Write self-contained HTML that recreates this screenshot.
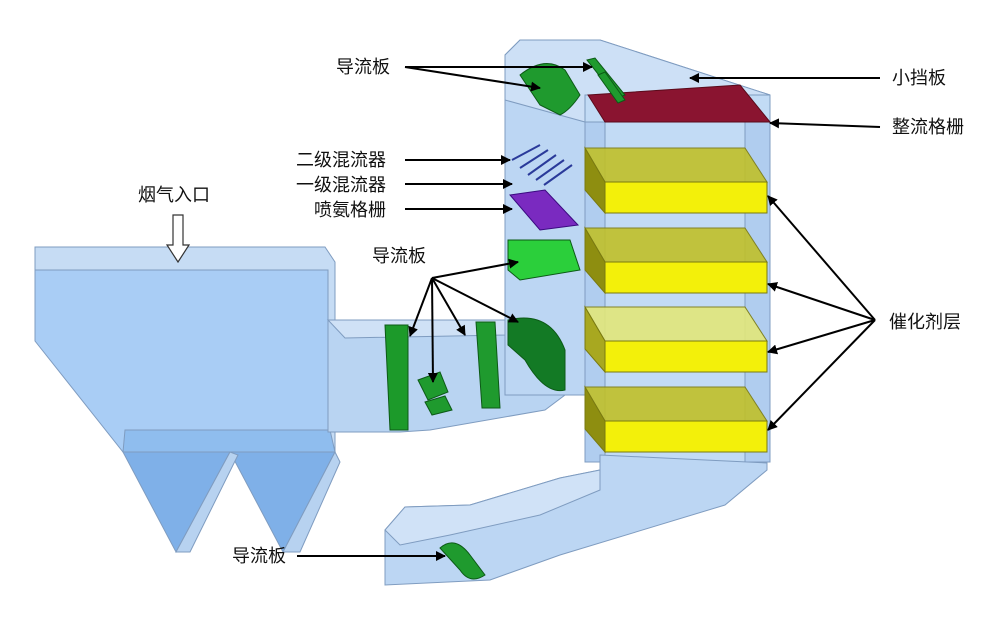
<!DOCTYPE html>
<html><head><meta charset="utf-8"><style>
html,body{margin:0;padding:0;background:#fff;}
svg{display:block}
text{font-family:"Liberation Sans","Noto Sans CJK SC",sans-serif;font-size:18px;fill:#111;}
</style></head><body>
<svg width="1000" height="624" viewBox="0 0 1000 624" xmlns="http://www.w3.org/2000/svg">
<defs>
<marker id="a" markerWidth="10" markerHeight="10" refX="9" refY="5" orient="auto" markerUnits="userSpaceOnUse" viewBox="0 0 10 10">
<path d="M0,0 L10,5 L0,10 z" fill="#000"/></marker>
</defs>
<g stroke="#7f9cc0" stroke-width="1">
<!-- boiler -->
<polygon points="35,247 325,247 335,262 335,462 328,462 328,270 35,270" fill="#c6dcf4"/>
<polygon points="35,270 328,270 328,460 123,452 35,341" fill="#a9cdf5"/>
<polygon points="123,452 230,452 176,552" fill="#7fb0e8"/>
<polygon points="230,452 335,452 283,552" fill="#7fb0e8"/>
<polygon points="125,430 330,430 335,452 123,452" fill="#8fbdee"/>
<polygon points="283,552 300,552 340,462 335,452" fill="#b7d2f0"/>
<polygon points="176,552 190,552 238,455 230,452" fill="#b7d2f0"/>
<!-- horizontal duct -->
<polygon points="328,320 505,320 585,300 585,380 545,410 430,430 400,432 328,432" fill="#b9d4f2"/>
<polygon points="328,320 505,320 505,335 345,338 328,320" fill="#cfe1f6"/>
<!-- riser -->
<polygon points="505,55 520,40 600,40 770,95 770,122 585,122 585,395 505,395" fill="#bcd6f3"/>
<polygon points="520,40 600,40 770,95 600,95 585,122 505,100 505,55" fill="#cde0f6"/>
<!-- reactor -->
<polygon points="585,95 770,95 770,462 585,462" fill="#c2dbf5"/>
<polygon points="585,122 605,122 605,462 585,462" fill="#b0cdef"/>
<polygon points="745,122 770,122 770,462 745,462" fill="#b0cdef"/>
<!-- lower duct -->
<polygon points="600,455 767,463 767,470 725,505 560,555 490,580 385,585 385,530 405,507 470,505 560,478 600,470" fill="#bcd6f3"/>
<polygon points="385,530 405,507 470,505 560,478 600,470 600,490 540,515 450,535 400,545" fill="#d0e2f7"/>
</g>
<!-- catalyst layers -->
<g stroke="#7a7a10" stroke-width="1">
<polygon points="585,148 745,148 767,182 605,182" fill="#c0c02a" opacity=".9"/>
<polygon points="605,182 767,182 767,213 605,213" fill="#f3f00a"/>
<polygon points="585,148 605,182 605,213 585,190" fill="#8e8e10"/>
<polygon points="585,228 745,228 767,262 605,262" fill="#c0c02a" opacity=".9"/>
<polygon points="605,262 767,262 767,293 605,293" fill="#f3f00a"/>
<polygon points="585,228 605,262 605,293 585,270" fill="#8e8e10"/>
<polygon points="585,307 745,307 767,341 605,341" fill="#e2e77a" opacity=".9"/>
<polygon points="605,341 767,341 767,372 605,372" fill="#f3f00a"/>
<polygon points="585,307 605,341 605,372 585,349" fill="#a8a820"/>
<polygon points="585,387 745,387 767,421 605,421" fill="#c0c02a" opacity=".9"/>
<polygon points="605,421 767,421 767,452 605,452" fill="#f3f00a"/>
<polygon points="585,387 605,421 605,452 585,429" fill="#8e8e10"/>
</g>
<!-- red grid -->
<polygon points="588,95 740,85 770,122 605,122" fill="#8a1430" stroke="#5a0a1a"/>
<!-- green vanes -->
<g fill="#1f9a2e" stroke="#0c5a16">
<path d="M520,75 Q545,55 565,70 L580,95 Q570,110 560,115 L540,105 Z"/>
<polygon points="587,60 595,58 625,95 617,98"/>
<polygon points="598,75 605,72 625,100 618,103"/>
<polygon points="508,240 570,240 580,270 520,280 508,270" fill="#2bcf3b"/>
<polygon points="385,325 408,325 408,430 390,430" fill="#1c9a2a"/>
<polygon points="418,380 440,372 448,392 428,400" />
<polygon points="425,402 445,396 452,410 432,415"/>
<polygon points="476,322 495,322 500,408 482,408"/>
<path d="M508,320 Q550,310 565,350 L565,390 Q545,395 525,360 L508,345 Z" fill="#137a25"/>
<path d="M440,548 Q455,535 470,555 L485,575 Q470,585 460,570 Z"/>
</g>
<!-- mixers -->
<g stroke="#2a3a9a" stroke-width="2">
<line x1="512" y1="160" x2="540" y2="145"/><line x1="520" y1="168" x2="548" y2="150"/><line x1="528" y1="175" x2="556" y2="155"/><line x1="536" y1="180" x2="564" y2="160"/><line x1="544" y1="185" x2="572" y2="165"/>
</g>
<g fill="#7a2ac0" stroke="#3a0a80">
<polygon points="510,195 545,190 578,225 540,230"/>
</g>
<!-- inlet arrow -->
<polygon points="173,215 183,215 183,245 189,245 178,262 167,245 173,245" fill="#fff" stroke="#333" stroke-width="1.2"/>
<!-- arrows -->
<g stroke="#000" stroke-width="2" fill="none" marker-end="url(#a)">
<line x1="405" y1="67" x2="592" y2="67"/>
<line x1="405" y1="67" x2="540" y2="88"/>
<line x1="880" y1="78" x2="690" y2="78"/>
<line x1="880" y1="127" x2="770" y2="123"/>
<line x1="405" y1="160" x2="510" y2="160"/>
<line x1="405" y1="184" x2="512" y2="184"/>
<line x1="405" y1="209" x2="512" y2="209"/>
<line x1="432" y1="278" x2="518" y2="262"/>
<line x1="432" y1="278" x2="410" y2="336"/>
<line x1="432" y1="278" x2="433" y2="382"/>
<line x1="432" y1="278" x2="465" y2="335"/>
<line x1="432" y1="278" x2="518" y2="322"/>
<line x1="875" y1="320" x2="768" y2="196"/>
<line x1="875" y1="320" x2="768" y2="284"/>
<line x1="875" y1="320" x2="768" y2="352"/>
<line x1="875" y1="320" x2="768" y2="430"/>
<line x1="297" y1="556" x2="445" y2="556"/>
</g>
<text x="336" y="73">导流板</text>
<text x="296" y="166">二级混流器</text>
<text x="296" y="191">一级混流器</text>
<text x="314" y="216">喷氨格栅</text>
<text x="138" y="201">烟气入口</text>
<text x="372" y="262">导流板</text>
<text x="892" y="84">小挡板</text>
<text x="892" y="133">整流格栅</text>
<text x="889" y="328">催化剂层</text>
<text x="232" y="562">导流板</text>
</svg>
</body></html>
